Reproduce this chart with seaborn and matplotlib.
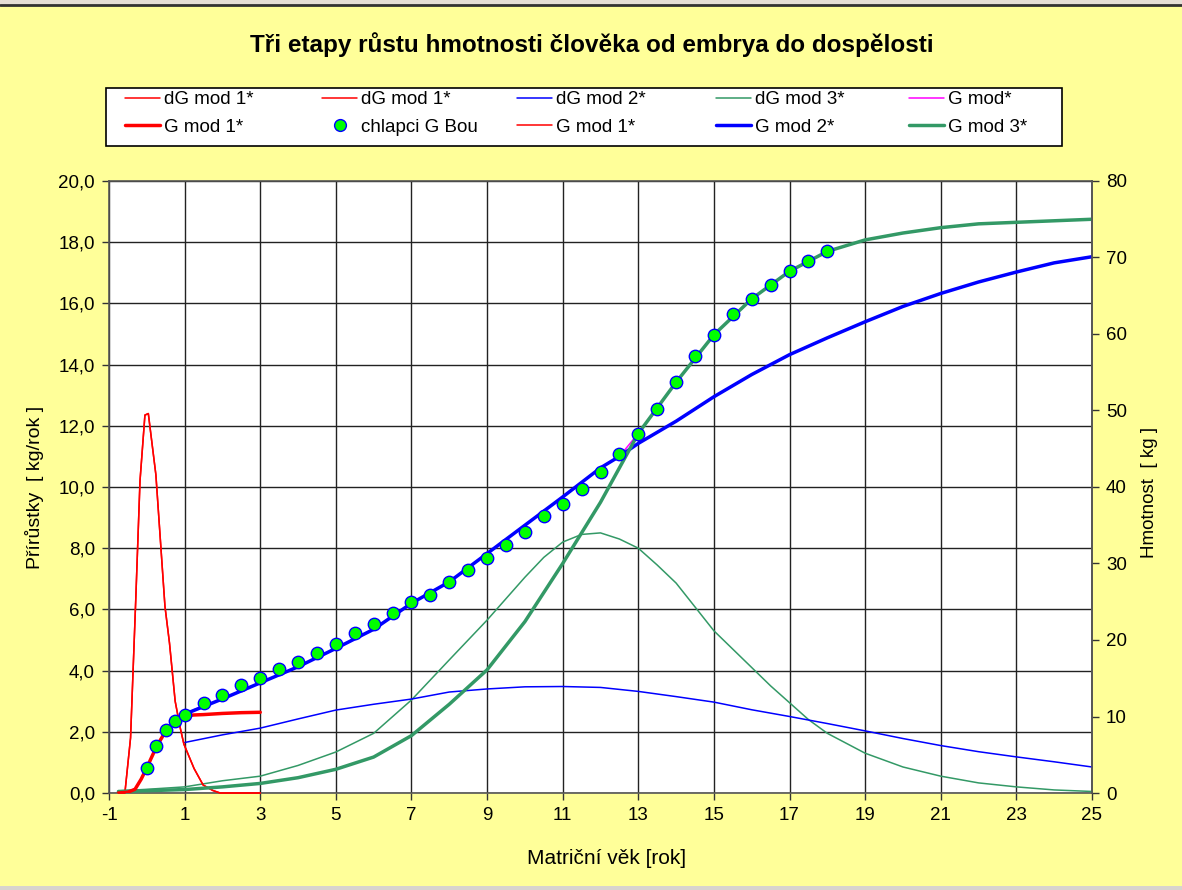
import numpy as np
import pandas as pd
import matplotlib
matplotlib.use("Agg")
import matplotlib.pyplot as plt
import seaborn as sns
from matplotlib.ticker import FuncFormatter
from matplotlib.lines import Line2D
from matplotlib.patches import Rectangle

# ---------------- data ----------------
title = "Tři etapy růstu hmotnosti člověka od embrya do dospělosti"
x_label = "Matriční věk [rok]"
y_label_left = "Přírůstky  [ kg/rok ]"
y_label_right = "Hmotnost  [ kg ]"

x_ticks = list(range(-1, 26, 2))
y_ticks_left = [0, 2, 4, 6, 8, 10, 12, 14, 16, 18, 20]
y_ticks_right = [0, 10, 20, 30, 40, 50, 60, 70, 80]

# dG mod 1* (kg/rok, left axis)
dg1_age = [-0.75, -0.58, -0.43, -0.29, -0.18, -0.05, 0.04, 0.24, 0.48, 0.60, 0.75, 0.88, 0.98, 1.25, 1.49, 1.75, 1.94, 2.5, 3.0]
dg1_val = [0.0, 0.0, 1.8, 6.4, 10.2, 12.35, 12.4, 10.4, 6.1, 4.9, 3.0, 2.15, 1.6, 0.8, 0.26, 0.08, 0.0, 0.0, 0.0]

# dG mod 2* (kg/rok, left axis)
dg2_age = [1, 2, 3, 4, 5, 6, 7, 8, 9, 10, 11, 12, 13, 14, 15, 16, 17, 18, 19, 20, 21, 22, 23, 24, 25]
dg2_val = [1.65, 1.9, 2.12, 2.42, 2.71, 2.9, 3.07, 3.3, 3.4, 3.47, 3.48, 3.45, 3.32, 3.15, 2.97, 2.72, 2.5, 2.27, 2.03, 1.78, 1.55, 1.35, 1.18, 1.02, 0.85]

# dG mod 3* (kg/rok, left axis)
dg3_age = [-0.75, 0, 1, 2, 3, 4, 5, 6, 7, 8, 9, 10, 10.5, 11, 11.5, 12, 12.5, 13, 13.5, 14, 14.5, 15, 15.5, 16, 16.5, 17, 17.5, 18, 19, 20, 21, 22, 23, 24, 25]
dg3_val = [0.07, 0.12, 0.2, 0.4, 0.55, 0.9, 1.34, 1.95, 3.04, 4.35, 5.65, 7.05, 7.7, 8.2, 8.45, 8.5, 8.3, 8.0, 7.45, 6.86, 6.08, 5.3, 4.7, 4.1, 3.5, 2.95, 2.4, 1.95, 1.3, 0.85, 0.55, 0.33, 0.2, 0.1, 0.05]

# G mod 1* (kg, right axis)
g1_age = [-0.75, -0.5, -0.31, -0.15, 0.0, 0.25, 0.5, 0.75, 1.0, 1.25, 1.5, 2.0, 2.5, 3.0]
g1_val = [0.0, 0.1, 0.5, 1.8, 3.3, 6.0, 8.1, 9.4, 10.1, 10.2, 10.25, 10.4, 10.5, 10.55]

# G mod 2* (kg, right axis)
g2_age = [1, 2, 3, 4, 5, 6, 7, 8, 9, 10, 11, 12, 12.5, 13, 14, 15, 16, 17, 18, 19, 20, 21, 22, 23, 24, 25]
g2_val = [10.3, 12.3, 14.4, 16.5, 18.9, 21.4, 24.8, 27.6, 31.3, 35.0, 38.7, 42.5, 44.0, 45.7, 48.6, 51.8, 54.7, 57.3, 59.5, 61.6, 63.6, 65.3, 66.8, 68.1, 69.3, 70.1]

# G mod 3* (kg, right axis)
g3_age = [-0.75, 0, 1, 2, 3, 4, 5, 6, 7, 8, 9, 10, 11, 12, 12.5, 13, 14, 15, 16, 17, 18, 19, 20, 21, 22, 23, 24, 25]
g3_val = [0.2, 0.3, 0.45, 0.8, 1.25, 2.0, 3.1, 4.7, 7.5, 11.6, 16.1, 22.4, 30.0, 38.0, 42.5, 47.0, 53.7, 59.9, 64.6, 68.2, 70.8, 72.3, 73.2, 73.9, 74.4, 74.6, 74.8, 75.0]

# G mod* (combined model, kg, right axis)
gm_age = [-0.75, -0.5, -0.31, -0.15, 0.0, 0.25, 0.5, 0.75, 1.0, 1.25, 2, 3, 4, 5, 6, 7, 8, 9, 10, 11, 12, 12.5, 13, 14, 15, 16, 17, 18, 19, 20, 21, 22, 23, 24, 25]
gm_val = [0.0, 0.1, 0.5, 1.8, 3.3, 6.0, 8.1, 9.4, 10.1, 10.9, 12.3, 14.4, 16.5, 18.9, 21.4, 24.8, 27.6, 31.3, 35.0, 38.7, 42.5, 44.0, 47.0, 53.7, 59.9, 64.6, 68.2, 70.8, 72.3, 73.2, 73.9, 74.4, 74.6, 74.8, 75.0]

# chlapci G Bou (kg, right axis)
bou_age = [0, 0.25, 0.5, 0.75, 1, 1.5, 2, 2.5, 3, 3.5, 4, 4.5, 5, 5.5, 6, 6.5, 7, 7.5, 8, 8.5, 9, 9.5, 10, 10.5,
           11, 11.5, 12, 12.5, 13, 13.5, 14, 14.5, 15, 15.5, 16, 16.5, 17, 17.5, 18]
bou_val = [3.3, 6.1, 8.2, 9.4, 10.2, 11.8, 12.8, 14.1, 15.0, 16.2, 17.1, 18.3, 19.5, 20.9, 22.1, 23.5, 25.0, 25.9,
           27.6, 29.1, 30.7, 32.4, 34.1, 36.2, 37.8, 39.7, 42.0, 44.3, 46.9, 50.2, 53.7, 57.1, 59.9, 62.6, 64.6,
           66.4, 68.2, 69.5, 70.8]

# ---------------- style ----------------
sns.set_theme(style="white")
plt.rcParams["font.family"] = ["Liberation Sans", "DejaVu Sans"]
plt.rcParams["text.color"] = "black"

RED = "#FF0000"
BLUE = "#0000FF"
GREEN = "#339966"
MAG = "#FF00FF"
BG = "#FFFF99"
FS = 13.5

W, H = 1182, 890
fig = plt.figure(figsize=(W / 100, H / 100), dpi=100, facecolor=BG)


def fx(px):
    return px / W


def fy(py):
    return 1 - py / H


# screenshot edges
fig.add_artist(Rectangle((0, fy(5)), 1, 1 - fy(5), transform=fig.transFigure,
                         facecolor="#e6dfd6", edgecolor="none", zorder=0))
fig.add_artist(Line2D([0, 1], [fy(5), fy(5)], transform=fig.transFigure, color="#333333", lw=2))
fig.add_artist(Rectangle((0, 0), 1, fy(886), transform=fig.transFigure,
                         facecolor="#d8d4ce", edgecolor="none", zorder=0))

ax = fig.add_axes([fx(109), fy(793), fx(1092) - fx(109), fy(181) - fy(793)])
ax.set_facecolor("white")
ax2 = ax.twinx()

thin = 1.1
thick = 2.5

# left axis lines
sns.lineplot(x=dg3_age, y=dg3_val, ax=ax, color=GREEN, lw=thin, legend=False, estimator=None, sort=False)
sns.lineplot(x=dg2_age, y=dg2_val, ax=ax, color=BLUE, lw=thin, legend=False, estimator=None, sort=False)
sns.lineplot(x=dg1_age, y=dg1_val, ax=ax, color=RED, lw=thin, legend=False, estimator=None, sort=False)
sns.lineplot(x=dg1_age, y=dg1_val, ax=ax, color=RED, lw=thin, legend=False, estimator=None, sort=False)
for ln in ax.lines:
    ln.set_clip_on(False)
    ln.set_zorder(3)

# right axis lines
sns.lineplot(x=gm_age, y=gm_val, ax=ax2, color=MAG, lw=thin, legend=False, estimator=None, sort=False)
sns.lineplot(x=g2_age, y=g2_val, ax=ax2, color=BLUE, lw=thick, legend=False, estimator=None, sort=False)
sns.lineplot(x=g3_age, y=g3_val, ax=ax2, color=GREEN, lw=thick, legend=False, estimator=None, sort=False)
sns.lineplot(x=g1_age, y=g1_val, ax=ax2, color=RED, lw=thick, legend=False, estimator=None, sort=False)
sns.lineplot(x=g1_age, y=g1_val, ax=ax2, color=RED, lw=thin, legend=False, estimator=None, sort=False)
sns.scatterplot(x=bou_age, y=bou_val, ax=ax2, color="#00FF00", edgecolor=BLUE, linewidth=1.0, s=80,
                legend=False, zorder=5)

ax.set_xlim(-1, 25)
ax.set_ylim(0, 20)
ax2.set_ylim(0, 80)
ax.set_xticks(x_ticks)
ax.set_xticklabels([str(v) for v in x_ticks])
ax.set_yticks(y_ticks_left)
ax.yaxis.set_major_formatter(FuncFormatter(lambda v, p: f"{v:.1f}".replace(".", ",")))
ax2.set_yticks(y_ticks_right)
ax2.set_yticklabels([str(v) for v in y_ticks_right])

ax.grid(True, color="#222222", lw=1.0)
ax2.grid(False)
ax.set_axisbelow(True)
for s in ax.spines.values():
    s.set_color("#555555")
    s.set_linewidth(1.2)
for name, s in ax2.spines.items():
    if name == "right":
        s.set_color("#555555")
        s.set_linewidth(1.2)
    else:
        s.set_visible(False)
ax.tick_params(axis="both", direction="out", length=5, width=1, color="#333333",
               labelsize=FS, labelcolor="black", pad=5, bottom=True, left=True)
ax2.tick_params(axis="y", direction="out", length=5, width=1, color="#333333",
                labelsize=FS, labelcolor="black", pad=5, right=True)
ax.set_xlabel("")
ax.set_ylabel("")
ax2.set_ylabel("")

# texts
fig.text(fx(592), fy(45), title, ha="center", va="center", fontsize=17.5, fontweight="bold", color="black")
fig.text(fx(607), fy(858), x_label, ha="center", va="center", fontsize=15, color="black")
fig.text(fx(35), fy(487), y_label_left, ha="center", va="center", rotation=90, fontsize=14, color="black")
fig.text(fx(1150), fy(492), y_label_right, ha="center", va="center", rotation=90, fontsize=13.5, color="black")

# legend
fig.add_artist(Rectangle((fx(106), fy(146)), fx(1062) - fx(106), fy(88) - fy(146), transform=fig.transFigure,
                         facecolor="white", edgecolor="black", lw=1.2, zorder=1))


def L(color, lw):
    return Line2D([], [], color=color, lw=lw)


bou_handle = Line2D([], [], marker="o", ls="", mfc="#00FF00", mec=BLUE, ms=8.5, mew=1.0)
columns = [
    ([L(RED, thin), L(RED, thick)], ["dG mod 1*", "G mod 1*"], 125),
    ([L(RED, thin), bou_handle], ["dG mod 1*", "chlapci G Bou"], 322),
    ([L(BLUE, thin), L(RED, thin)], ["dG mod 2*", "G mod 1*"], 517),
    ([L(GREEN, thin), L(BLUE, thick)], ["dG mod 3*", "G mod 2*"], 716),
    ([L(MAG, thin), L(GREEN, thick)], ["G mod*", "G mod 3*"], 909),
]
for hs, labs, x0 in columns:
    lg = fig.legend(handles=hs, labels=labs, loc="upper left", bbox_to_anchor=(fx(x0), fy(91)),
                    frameon=False, fontsize=FS, handlelength=1.87, handletextpad=0.2,
                    borderpad=0, borderaxespad=0, labelspacing=0.55)
    for t in lg.get_texts():
        t.set_color("black")
    lg.set_zorder(3)

fig.savefig("out.png", dpi=100, facecolor=BG)
